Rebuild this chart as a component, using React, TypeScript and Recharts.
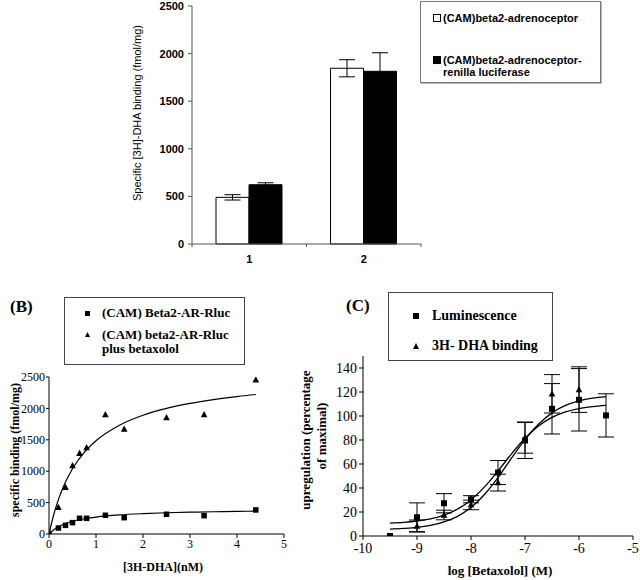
import React from "react"
import {
  Bar,
  BarChart,
  ComposedChart,
  ErrorBar,
  Label,
  Line,
  Scatter,
  XAxis,
  YAxis,
} from "recharts"

// (A) receptor expression
const groups = ["1", "2"]
const camValues = [490, 1846]
const camErrors = [28, 90]
const rlucValues = [623, 1814]
const rlucErrors = [20, 195]
const barTicks = [0, 500, 1000, 1500, 2000, 2500]

// (B) saturation binding
const satX = [0, 0.2, 0.35, 0.5, 0.65, 0.8, 1.2, 1.6, 2.5, 3.3, 4.4]
const satRluc = [0, 95, 138, 181, 250, 250, 298, 260, 314, 292, 383]
const satBetaxX = [0.2, 0.35, 0.5, 0.65, 0.8, 1.2, 1.6, 2.5, 3.3, 4.4]
const satBetax = [426, 745, 1090, 1287, 1377, 1903, 1670, 1855, 1903, 2456]
const fitX = [0, 0.1, 0.2, 0.35, 0.5, 0.75, 1, 1.5, 2, 2.5, 3, 3.5, 4, 4.4]
const fitRluc = [0, 68, 116, 167, 203, 243, 270, 304, 324, 338, 347, 354, 360, 364]
const fitBetax = [0, 306, 547, 827, 1040, 1300, 1486, 1733, 1891, 2000, 2080, 2141, 2189, 2221]
const satXTicks = [0, 1, 2, 3, 4, 5]
const satYTicks = [0, 500, 1000, 1500, 2000, 2500]

// (C) betaxolol concentration response
const doseX = [-9.5, -9, -8.5, -8, -7.5, -7, -6.5, -6, -5.5]
const lumValues = [0, 15.6, 27.3, 30.6, 52.9, 79.6, 106, 113.5, 100.5]
const lumErrors = [0, 12, 8, 3, 10, 15, 21, 26, 18]
const dhaX = [-9, -8.5, -8, -7.5, -7, -6.5, -6]
const dhaValues = [8.3, 17.5, 25.9, 44.5, 82, 118.5, 122]
const dhaErrors = [5, 4, 4, 7, 13, 16, 19]
const curveX = [-9.5, -9.25, -9, -8.75, -8.5, -8.25, -8, -7.75, -7.5, -7.25, -7, -6.75, -6.5, -6.25, -6, -5.75, -5.5]
const lumFit = [10.8, 11.4, 12.5, 14.3, 17.4, 22.4, 30.1, 40.9, 54.2, 68.5, 81.5, 91.7, 98.8, 103.4, 106.2, 107.8, 108.8]
const dhaFit = [5.7, 6.3, 7.2, 8.9, 11.7, 16.4, 23.8, 34.6, 48.7, 64.8, 80.3, 93.1, 102.6, 108.8, 112.6, 114.9, 116.2]
const doseXTicks = [-10, -9, -8, -7, -6, -5]
const doseYTicks = [0, 20, 40, 60, 80, 100, 120, 140]

const SANS = "'Liberation Sans', Arial, sans-serif"
const SERIF = "'Liberation Serif', 'Times New Roman', serif"

const barRows = groups.map((g, i) => ({
  name: g,
  cam: camValues[i],
  camErr: camErrors[i],
  rluc: rlucValues[i],
  rlucErr: rlucErrors[i],
}))
const pts = (xs: number[], ys: number[], es?: number[]) =>
  xs.map((x, i) => ({ x, y: ys[i], e: es ? es[i] : 0 }))

const Square = (size: number) => (p: any) =>
  <rect x={p.cx - size / 2} y={p.cy - size / 2} width={size} height={size} fill="#000" />
const Triangle = (size: number) => (p: any) => (
  <polygon
    points={`${p.cx},${p.cy - size * 0.6} ${p.cx + size * 0.55},${p.cy + size * 0.45} ${p.cx - size * 0.55},${p.cy + size * 0.45}`}
    fill="#000"
  />
)

// category label plus excel-style tick marks on the category boundaries
function BarTick(props: any) {
  const { x, y, payload, index, visibleTicksCount } = props
  const half = payload.offset || 57
  const last = index === visibleTicksCount - 1
  return (
    <g>
      <line x1={x - half} x2={x - half} y1={y} y2={y + 3} stroke="#555" />
      {last && <line x1={x + half} x2={x + half} y1={y} y2={y + 3} stroke="#555" />}
      <text x={x} y={y + 19} textAnchor="middle" fontFamily={SANS} fontWeight="bold" fontSize={11} fill="#000">
        {payload.value}
      </text>
    </g>
  )
}

function RotLabel({ x, y, text, font, size, bold }: any) {
  return (
    <text
      x={x}
      y={y}
      transform={`rotate(-90 ${x} ${y})`}
      textAnchor="middle"
      dominantBaseline="central"
      fontFamily={font}
      fontSize={size}
      fontWeight={bold ? "bold" : "normal"}
      fill="#000"
    >
      {text}
    </text>
  )
}

const box: React.CSSProperties = {
  position: "absolute",
  boxSizing: "border-box",
  border: "1px solid #777",
  background: "#fff",
  whiteSpace: "nowrap",
}

function MarkSq({ size, fill }: { size: number; fill: string }) {
  return (
    <svg width={size} height={size} style={{ display: "block" }}>
      <rect x={0.5} y={0.5} width={size - 1} height={size - 1} fill={fill} stroke="#000" />
    </svg>
  )
}

function MarkTri({ size }: { size: number }) {
  return (
    <svg width={size} height={size} style={{ display: "block" }}>
      <polygon points={`${size / 2},0 ${size},${size} 0,${size}`} fill="#000" />
    </svg>
  )
}

export default function App() {
  return (
    <div style={{ position: "absolute", left: 0, top: 0, width: 640, height: 580, background: "#fff" }}>
      {/* panel A */}
      <div style={{ position: "absolute", left: 0, top: 0 }}>
        <BarChart
          width={440}
          height={280}
          data={barRows}
          margin={{ top: 6, right: 19, bottom: 0, left: 0 }}
          barGap={0}
          barSize={33}
        >
          <XAxis
            dataKey="name"
            interval={0}
            height={36}
            tickLine={false}
            tickSize={0}
            tickMargin={0}
            stroke="#555"
            tick={<BarTick />}
          />
          <YAxis
            width={192}
            domain={[0, 2500]}
            ticks={barTicks}
            interval={0}
            tickSize={4}
            tickMargin={4}
            stroke="#555"
            tick={{ fontSize: 11, fontWeight: "bold", fill: "#000", fontFamily: SANS }}
          >
            <Label
              content={() => (
                <RotLabel x={137} y={113} text="Specific [3H]-DHA binding (fmol/mg)" font={SANS} size={11} />
              )}
            />
          </YAxis>
          <Bar dataKey="cam" fill="#fff" stroke="#000" strokeWidth={1} isAnimationActive={false}>
            <ErrorBar dataKey="camErr" direction="y" width={8} stroke="#000" strokeWidth={1} />
          </Bar>
          <Bar dataKey="rluc" fill="#000" stroke="#000" strokeWidth={1} isAnimationActive={false}>
            <ErrorBar dataKey="rlucErr" direction="y" width={8} stroke="#000" strokeWidth={1} />
          </Bar>
        </BarChart>
      </div>
      <div
        style={{
          ...box,
          left: 420,
          top: 1,
          width: 181,
          height: 82,
          boxShadow: "1px 1px 0 #bbb",
          fontFamily: SANS,
          fontWeight: "bold",
          fontSize: 11,
          lineHeight: "12px",
        }}
      >
        <div style={{ position: "absolute", left: 12, top: 10, display: "flex", alignItems: "center", gap: 2 }}>
          <MarkSq size={8} fill="#fff" />
          <span>(CAM)beta2-adrenoceptor</span>
        </div>
        <div style={{ position: "absolute", left: 12, top: 52, display: "flex", alignItems: "flex-start", gap: 2 }}>
          <div style={{ marginTop: 2 }}>
            <MarkSq size={8} fill="#000" />
          </div>
          <span>
            (CAM)beta2-adrenoceptor-
            <br />
            renilla luciferase
          </span>
        </div>
      </div>

      {/* panel B */}
      <div style={{ position: "absolute", left: 0, top: 290 }}>
        <ComposedChart width={290} height={290} margin={{ top: 87, right: 6, bottom: 0, left: 0 }}>
          <XAxis
            type="number"
            dataKey="x"
            domain={[0, 5]}
            ticks={satXTicks}
            allowDataOverflow
            interval={0}
            height={46}
            tickSize={4}
            tickMargin={1}
            stroke="#000"
            tick={{ fontSize: 12, fill: "#000", fontFamily: SERIF }}
          >
            <Label
              content={() => (
                <text x={163} y={281} textAnchor="middle" fontFamily={SERIF} fontWeight="bold" fontSize={12} fill="#000">
                  [3H-DHA](nM)
                </text>
              )}
            />
          </XAxis>
          <YAxis
            type="number"
            dataKey="y"
            domain={[0, 2500]}
            ticks={satYTicks}
            allowDataOverflow
            interval={0}
            width={49}
            tickSize={3}
            tickMargin={1}
            stroke="#000"
            tick={{ fontSize: 12, fill: "#000", fontFamily: SERIF }}
          >
            <Label
              content={() => <RotLabel x={15} y={160} text="specific binding (fmol/mg)" font={SERIF} size={12} bold />}
            />
          </YAxis>
          <Line data={pts(fitX, fitBetax)} dataKey="y" type="monotone" dot={false} stroke="#000" strokeWidth={1.2} isAnimationActive={false} />
          <Line data={pts(fitX, fitRluc)} dataKey="y" type="monotone" dot={false} stroke="#000" strokeWidth={1.2} isAnimationActive={false} />
          <Scatter data={pts(satBetaxX, satBetax)} shape={Triangle(6)} isAnimationActive={false} />
          <Scatter data={pts(satX, satRluc)} shape={Square(5.5)} isAnimationActive={false} />
        </ComposedChart>
      </div>
      <div style={{ position: "absolute", left: 10, top: 297, fontFamily: SERIF, fontWeight: "bold", fontSize: 17 }}>(B)</div>
      <div
        style={{
          ...box,
          borderColor: "#444",
          left: 64,
          top: 297,
          width: 181,
          height: 68,
          fontFamily: SERIF,
          fontWeight: "bold",
          fontSize: 13,
          lineHeight: "14px",
        }}
      >
        <div style={{ position: "absolute", left: 20, top: 8, display: "flex", alignItems: "center" }}>
          <MarkSq size={5} fill="#000" />
          <span style={{ marginLeft: 12 }}>(CAM) Beta2-AR-Rluc</span>
        </div>
        <div style={{ position: "absolute", left: 20, top: 30, display: "flex", alignItems: "flex-start" }}>
          <div style={{ marginTop: 4 }}>
            <MarkTri size={5} />
          </div>
          <span style={{ marginLeft: 12 }}>
            (CAM) beta2-AR-Rluc
            <br />
            plus betaxolol
          </span>
        </div>
      </div>

      {/* panel C */}
      <div style={{ position: "absolute", left: 290, top: 290 }}>
        <ComposedChart width={350} height={290} margin={{ top: 66, right: 7, bottom: 0, left: 0 }}>
          <XAxis
            type="number"
            dataKey="x"
            domain={[-10, -5]}
            ticks={doseXTicks}
            allowDataOverflow
            interval={0}
            height={44}
            tickSize={4}
            tickMargin={3}
            stroke="#000"
            tick={{ fontSize: 14, fill: "#000", fontFamily: SERIF }}
          >
            <Label
              content={() => (
                <text x={210} y={285} textAnchor="middle" fontFamily={SERIF} fontWeight="bold" fontSize={13} fill="#000">
                  log [Betaxolol] (M)
                </text>
              )}
            />
          </XAxis>
          <YAxis
            type="number"
            dataKey="y"
            domain={[0, 150]}
            ticks={doseYTicks}
            allowDataOverflow
            interval={0}
            width={73}
            tickSize={4}
            tickMargin={2}
            stroke="#000"
            tick={{ fontSize: 14, fill: "#000", fontFamily: SERIF }}
          >
            <Label
              content={() => (
                <g>
                  <RotLabel x={15} y={150} text="upregulation (percentage" font={SERIF} size={13} bold />
                  <RotLabel x={31} y={146} text="of maximal)" font={SERIF} size={13} bold />
                </g>
              )}
            />
          </YAxis>
          <Line data={pts(curveX, lumFit)} dataKey="y" type="monotone" dot={false} stroke="#000" strokeWidth={1.3} isAnimationActive={false} />
          <Line data={pts(curveX, dhaFit)} dataKey="y" type="monotone" dot={false} stroke="#000" strokeWidth={1.3} isAnimationActive={false} />
          <Scatter data={pts(dhaX, dhaValues, dhaErrors)} shape={Triangle(6)} isAnimationActive={false}>
            <ErrorBar dataKey="e" direction="y" width={8} stroke="#000" strokeWidth={1} />
          </Scatter>
          <Scatter data={pts(doseX, lumValues, lumErrors)} shape={Square(6)} isAnimationActive={false}>
            <ErrorBar dataKey="e" direction="y" width={8} stroke="#000" strokeWidth={1} />
          </Scatter>
        </ComposedChart>
      </div>
      <div style={{ position: "absolute", left: 346, top: 296, fontFamily: SERIF, fontWeight: "bold", fontSize: 17 }}>(C)</div>
      <div
        style={{
          ...box,
          borderColor: "#444",
          left: 388,
          top: 292,
          width: 165,
          height: 69,
          fontFamily: SERIF,
          fontWeight: "bold",
          fontSize: 14,
          lineHeight: "16px",
        }}
      >
        <div style={{ position: "absolute", left: 24, top: 15, display: "flex", alignItems: "center" }}>
          <MarkSq size={6} fill="#000" />
          <span style={{ marginLeft: 13 }}>Luminescence</span>
        </div>
        <div style={{ position: "absolute", left: 24, top: 45, display: "flex", alignItems: "center" }}>
          <MarkTri size={6} />
          <span style={{ marginLeft: 13 }}>3H- DHA binding</span>
        </div>
      </div>
    </div>
  )
}
